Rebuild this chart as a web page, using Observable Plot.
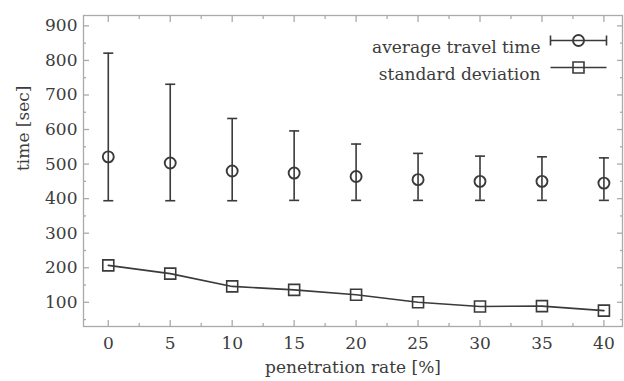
<!DOCTYPE html>
<html><head><meta charset="utf-8">
<script src="https://cdn.jsdelivr.net/npm/d3@7"></script>
<script src="https://cdn.jsdelivr.net/npm/@observablehq/plot@0.6"></script>
<style>body{margin:0;background:#fff} svg{display:block}</style>
</head><body><div id="chart"></div>
<script>
const rates    = [0, 5, 10, 15, 20, 25, 30, 35, 40];
const avgTime  = [521, 503, 480, 474, 464, 455, 450, 450, 445];
const avgUpper = [821, 731, 632, 596, 558, 531, 523, 521, 518];
const avgLower = [394, 394, 394, 395, 395, 395, 395, 395, 395];
const stdDev   = [207, 183, 146, 136, 122, 100, 88, 89, 76];

const xTicks = [0, 5, 10, 15, 20, 25, 30, 35, 40];
const xMinor = [2.5, 7.5, 12.5, 17.5, 22.5, 27.5, 32.5, 37.5];
const yTicks = [100, 200, 300, 400, 500, 600, 700, 800, 900];
const yMinor = [50, 150, 250, 350, 450, 550, 650, 750, 850];

const xLabel = "penetration rate [%]";
const yLabel = "time [sec]";
const legendLabels = ["average travel time", "standard deviation"];

const data = rates.map((r, i) => ({rate: r, avg: avgTime[i], upper: avgUpper[i], lower: avgLower[i], std: stdDev[i]}));

const ink = "#3a3a3a";
const txt = "#3c3c3c";
const axisGray = "#aaaaaa";
const sw = 1.6;

const capSymbol = {draw(ctx) { ctx.moveTo(-5, 0); ctx.lineTo(5, 0); }};
const legendBar = {draw(ctx) {
  ctx.moveTo(-28, 0); ctx.lineTo(28, 0);
  ctx.moveTo(-28, -5); ctx.lineTo(-28, 5);
  ctx.moveTo(28, -5); ctx.lineTo(28, 5);
}};
const legendLine = {draw(ctx) { ctx.moveTo(-28, 0); ctx.lineTo(28, 0); }};

const one = [0];

const chart = Plot.plot({
  width: 624,
  height: 381,
  marginLeft: 83,
  marginRight: 2,
  marginTop: 15,
  marginBottom: 55,
  x: {domain: [-2, 41.5]},
  y: {domain: [30, 930]},
  style: {fontFamily: "DejaVu Serif", fontSize: "17px", color: txt, background: "white"},
  marks: [
    Plot.frame({stroke: axisGray, strokeWidth: 1.3}),
    Plot.axisX({ticks: xTicks, anchor: "bottom", tickSize: -6, fill: "none", stroke: axisGray, strokeWidth: 1.3, label: null}),
    Plot.axisX({ticks: xTicks, anchor: "top", tickSize: -6, fill: "none", stroke: axisGray, strokeWidth: 1.3, label: null}),
    Plot.axisY({ticks: yTicks, anchor: "left", tickSize: -6, fill: "none", stroke: axisGray, strokeWidth: 1.3, label: null}),
    Plot.axisY({ticks: yTicks, anchor: "right", tickSize: -6, fill: "none", stroke: axisGray, strokeWidth: 1.3, label: null}),
    Plot.axisX({ticks: xMinor, anchor: "bottom", tickSize: -3, fill: "none", stroke: axisGray, strokeWidth: 1.3, label: null}),
    Plot.axisX({ticks: xMinor, anchor: "top", tickSize: -3, fill: "none", stroke: axisGray, strokeWidth: 1.3, label: null}),
    Plot.axisY({ticks: yMinor, anchor: "left", tickSize: -3, fill: "none", stroke: axisGray, strokeWidth: 1.3, label: null}),
    Plot.axisY({ticks: yMinor, anchor: "right", tickSize: -3, fill: "none", stroke: axisGray, strokeWidth: 1.3, label: null}),
    Plot.axisX({ticks: xTicks, anchor: "bottom", tickSize: 0, tickPadding: 10, fill: txt, label: null}),
    Plot.axisY({ticks: yTicks, anchor: "left", tickSize: 0, tickPadding: 6, fill: txt, label: null}),
    Plot.text(one, {frameAnchor: "bottom", text: () => xLabel, dy: 46, fill: txt}),
    Plot.text(one, {frameAnchor: "left", text: () => yLabel, rotate: -90, dx: -60, fill: txt}),
    Plot.ruleX(data, {x: "rate", y1: "lower", y2: "upper", stroke: ink, strokeWidth: sw}),
    Plot.dot(data, {x: "rate", y: "upper", symbol: capSymbol, stroke: ink, strokeWidth: sw, fill: "none"}),
    Plot.dot(data, {x: "rate", y: "lower", symbol: capSymbol, stroke: ink, strokeWidth: sw, fill: "none"}),
    Plot.dot(data, {x: "rate", y: "avg", r: 5.5, stroke: ink, strokeWidth: 1.9, fill: "none"}),
    Plot.line(data, {x: "rate", y: "std", stroke: ink, strokeWidth: sw}),
    Plot.dot(data, {x: "rate", y: "std", symbol: "square", r: 6.2, stroke: ink, strokeWidth: sw, fill: "none"}),
    Plot.text(one, {frameAnchor: "top-right", text: () => legendLabels[0], textAnchor: "end", dx: -82, dy: 25, fill: txt}),
    Plot.text(one, {frameAnchor: "top-right", text: () => legendLabels[1], textAnchor: "end", dx: -82, dy: 52, fill: txt}),
    Plot.dot(one, {frameAnchor: "top-right", dx: -44, dy: 25, symbol: legendBar, stroke: ink, strokeWidth: sw, fill: "none"}),
    Plot.dot(one, {frameAnchor: "top-right", dx: -44, dy: 25, r: 5.5, stroke: ink, strokeWidth: 1.9, fill: "none"}),
    Plot.dot(one, {frameAnchor: "top-right", dx: -44, dy: 52, symbol: legendLine, stroke: ink, strokeWidth: sw, fill: "none"}),
    Plot.dot(one, {frameAnchor: "top-right", dx: -44, dy: 52, symbol: "square", r: 6.2, stroke: ink, strokeWidth: sw, fill: "none"})
  ]
});
document.getElementById("chart").appendChild(chart);
</script>
</body></html>
